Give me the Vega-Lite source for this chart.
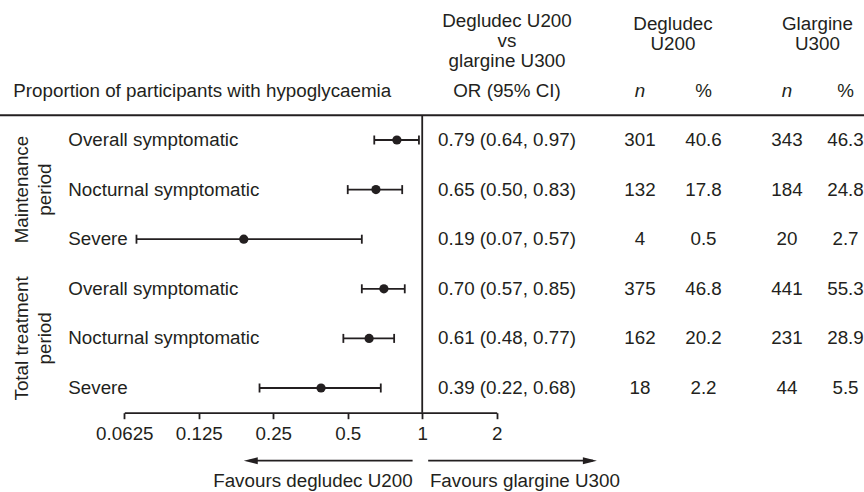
{
  "$schema": "https://vega.github.io/schema/vega-lite/v6.json",
  "width": 864,
  "height": 492,
  "padding": 0,
  "autosize": "none",
  "background": "white",
  "config": {
    "view": {"stroke": null},
    "text": {"font": "Liberation Sans", "fontSize": 18.8, "color": "#231f20"},
    "axis": {
      "grid": false, "title": null,
      "domainColor": "#231f20", "domainWidth": 1.8, "tickColor": "#231f20", "tickWidth": 1.8, "tickSize": 6,
      "labelFont": "Liberation Sans", "labelFontSize": 18.8, "labelColor": "#231f20", "labelPadding": 6,
      "labelFlush": false, "labelOverlap": false, "labelBound": false
    }
  },
  "datasets": {
    "rows": [
      {"row": 1, "group": "Maintenance\nperiod", "outcome": "Overall symptomatic", "or": 0.79, "lo": 0.64, "hi": 0.97, "or_ci": "0.79 (0.64, 0.97)", "deg_n": 301, "deg_pct": 40.6, "gla_n": 343, "gla_pct": 46.3},
      {"row": 2, "group": "Maintenance\nperiod", "outcome": "Nocturnal symptomatic", "or": 0.65, "lo": 0.50, "hi": 0.83, "or_ci": "0.65 (0.50, 0.83)", "deg_n": 132, "deg_pct": 17.8, "gla_n": 184, "gla_pct": 24.8},
      {"row": 3, "group": "Maintenance\nperiod", "outcome": "Severe", "or": 0.19, "lo": 0.07, "hi": 0.57, "or_ci": "0.19 (0.07, 0.57)", "deg_n": 4, "deg_pct": 0.5, "gla_n": 20, "gla_pct": 2.7},
      {"row": 4, "group": "Total treatment\nperiod", "outcome": "Overall symptomatic", "or": 0.70, "lo": 0.57, "hi": 0.85, "or_ci": "0.70 (0.57, 0.85)", "deg_n": 375, "deg_pct": 46.8, "gla_n": 441, "gla_pct": 55.3},
      {"row": 5, "group": "Total treatment\nperiod", "outcome": "Nocturnal symptomatic", "or": 0.61, "lo": 0.48, "hi": 0.77, "or_ci": "0.61 (0.48, 0.77)", "deg_n": 162, "deg_pct": 20.2, "gla_n": 231, "gla_pct": 28.9},
      {"row": 6, "group": "Total treatment\nperiod", "outcome": "Severe", "or": 0.39, "lo": 0.22, "hi": 0.68, "or_ci": "0.39 (0.22, 0.68)", "deg_n": 18, "deg_pct": 2.2, "gla_n": 44, "gla_pct": 5.5}
    ]
  },
  "data": {"name": "rows"},
  "layer": [
    {
      "data": {"values": [{}]},
      "mark": {"type": "rule", "strokeWidth": 2, "color": "#231f20"},
      "encoding": {
        "y": {"datum": 0.5, "type": "quantitative", "scale": {"domain": [-1.8226, 8.0968], "reverse": true, "nice": false, "zero": false}, "axis": null}
      }
    },
    {
      "layer": [
        {
          "data": {"values": [{}]},
          "mark": {"type": "rule", "strokeWidth": 1.8, "color": "#231f20"},
          "encoding": {
            "x": {"datum": 1, "type": "quantitative", "scale": {"type": "log", "base": 2, "domain": [0.0625, 2], "range": [124.3, 496.7], "nice": false}, "axis": {"values": [0.0625, 0.125, 0.25, 0.5, 1, 2], "format": "~g", "offset": -79.3}},
            "y": {"datum": 0.5, "type": "quantitative", "scale": {"domain": [-1.8226, 8.0968], "reverse": true, "nice": false, "zero": false}, "axis": null},
            "y2": {"datum": 6.5}
          }
        },
        {
          "mark": {"type": "rule", "strokeWidth": 1.8, "color": "#231f20"},
          "encoding": {
            "x": {"field": "lo", "type": "quantitative", "scale": {"type": "log", "base": 2, "domain": [0.0625, 2], "range": [124.3, 496.7], "nice": false}, "axis": {"values": [0.0625, 0.125, 0.25, 0.5, 1, 2], "format": "~g", "offset": -79.3}},
            "x2": {"field": "hi"},
            "y": {"field": "row", "type": "quantitative", "scale": {"domain": [-1.8226, 8.0968], "reverse": true, "nice": false, "zero": false}, "axis": null}
          }
        },
        {
          "transform": [{"fold": ["lo", "hi"], "as": ["end", "val"]}],
          "mark": {"type": "tick", "orient": "vertical", "size": 9, "thickness": 1.8, "color": "#231f20", "opacity": 1},
          "encoding": {
            "x": {"field": "val", "type": "quantitative", "scale": {"type": "log", "base": 2, "domain": [0.0625, 2], "range": [124.3, 496.7], "nice": false}, "axis": {"values": [0.0625, 0.125, 0.25, 0.5, 1, 2], "format": "~g", "offset": -79.3}},
            "y": {"field": "row", "type": "quantitative", "scale": {"domain": [-1.8226, 8.0968], "reverse": true, "nice": false, "zero": false}, "axis": null}
          }
        },
        {
          "mark": {"type": "circle", "size": 85, "opacity": 1, "color": "#231f20"},
          "encoding": {
            "x": {"field": "or", "type": "quantitative", "scale": {"type": "log", "base": 2, "domain": [0.0625, 2], "range": [124.3, 496.7], "nice": false}, "axis": {"values": [0.0625, 0.125, 0.25, 0.5, 1, 2], "format": "~g", "offset": -79.3}},
            "y": {"field": "row", "type": "quantitative", "scale": {"domain": [-1.8226, 8.0968], "reverse": true, "nice": false, "zero": false}, "axis": null}
          }
        },
        {
          "data": {"values": [{}]},
          "mark": {"type": "rule", "strokeWidth": 1.8, "color": "#231f20"},
          "encoding": {
            "x": {"datum": 0.9144, "type": "quantitative", "scale": {"type": "log", "base": 2, "domain": [0.0625, 2], "range": [124.3, 496.7], "nice": false}, "axis": {"values": [0.0625, 0.125, 0.25, 0.5, 1, 2], "format": "~g", "offset": -79.3}},
            "x2": {"datum": 0.2},
            "y": {"datum": 7.466, "type": "quantitative", "scale": {"domain": [-1.8226, 8.0968], "reverse": true, "nice": false, "zero": false}, "axis": null}
          }
        },
        {
          "data": {"values": [{}]},
          "mark": {"type": "point", "shape": "M0,0L2,-0.5L2,0.5Z", "size": 196, "filled": true, "opacity": 1, "strokeWidth": 0, "color": "#231f20"},
          "encoding": {
            "x": {"datum": 0.19, "type": "quantitative", "scale": {"type": "log", "base": 2, "domain": [0.0625, 2], "range": [124.3, 496.7], "nice": false}, "axis": {"values": [0.0625, 0.125, 0.25, 0.5, 1, 2], "format": "~g", "offset": -79.3}},
            "y": {"datum": 7.466, "type": "quantitative", "scale": {"domain": [-1.8226, 8.0968], "reverse": true, "nice": false, "zero": false}, "axis": null}
          }
        },
        {
          "data": {"values": [{}]},
          "mark": {"type": "rule", "strokeWidth": 1.8, "color": "#231f20"},
          "encoding": {
            "x": {"datum": 1.057, "type": "quantitative", "scale": {"type": "log", "base": 2, "domain": [0.0625, 2], "range": [124.3, 496.7], "nice": false}, "axis": {"values": [0.0625, 0.125, 0.25, 0.5, 1, 2], "format": "~g", "offset": -79.3}},
            "x2": {"datum": 4.9},
            "y": {"datum": 7.466, "type": "quantitative", "scale": {"domain": [-1.8226, 8.0968], "reverse": true, "nice": false, "zero": false}, "axis": null}
          }
        },
        {
          "data": {"values": [{}]},
          "mark": {"type": "point", "shape": "M0,0L-2,-0.5L-2,0.5Z", "size": 196, "filled": true, "opacity": 1, "strokeWidth": 0, "color": "#231f20"},
          "encoding": {
            "x": {"datum": 5.08, "type": "quantitative", "scale": {"type": "log", "base": 2, "domain": [0.0625, 2], "range": [124.3, 496.7], "nice": false}, "axis": {"values": [0.0625, 0.125, 0.25, 0.5, 1, 2], "format": "~g", "offset": -79.3}},
            "y": {"datum": 7.466, "type": "quantitative", "scale": {"domain": [-1.8226, 8.0968], "reverse": true, "nice": false, "zero": false}, "axis": null}
          }
        },
        {
          "data": {"values": [{"label": "Favours degludec U200"}]},
          "mark": {"type": "text", "align": "right", "baseline": "alphabetic"},
          "encoding": {
            "x": {"datum": 0.9144, "type": "quantitative", "scale": {"type": "log", "base": 2, "domain": [0.0625, 2], "range": [124.3, 496.7], "nice": false}, "axis": {"values": [0.0625, 0.125, 0.25, 0.5, 1, 2], "format": "~g", "offset": -79.3}},
            "y": {"datum": 7.99, "type": "quantitative", "scale": {"domain": [-1.8226, 8.0968], "reverse": true, "nice": false, "zero": false}, "axis": null},
            "text": {"field": "label"}
          }
        },
        {
          "data": {"values": [{"label": "Favours glargine U300"}]},
          "mark": {"type": "text", "align": "left", "baseline": "alphabetic"},
          "encoding": {
            "x": {"datum": 1.074, "type": "quantitative", "scale": {"type": "log", "base": 2, "domain": [0.0625, 2], "range": [124.3, 496.7], "nice": false}, "axis": {"values": [0.0625, 0.125, 0.25, 0.5, 1, 2], "format": "~g", "offset": -79.3}},
            "y": {"datum": 7.99, "type": "quantitative", "scale": {"domain": [-1.8226, 8.0968], "reverse": true, "nice": false, "zero": false}, "axis": null},
            "text": {"field": "label"}
          }
        }
      ]
    },
    {
      "layer": [
        {
          "data": {"values": [{"label": "Proportion of participants with hypoglycaemia"}]},
          "mark": {"type": "text", "align": "left", "baseline": "alphabetic"},
          "encoding": {
            "x": {"datum": 0, "type": "quantitative", "scale": {"type": "linear", "domain": [0, 1, 2, 3, 4, 5, 6, 7, 8, 9], "range": [13.3, 22, 68.3, 507, 640, 673, 703.5, 787, 817.5, 845.5], "nice": false, "zero": false}, "axis": null},
            "y": {"datum": 0.123, "type": "quantitative", "scale": {"domain": [-1.8226, 8.0968], "reverse": true, "nice": false, "zero": false}, "axis": null},
            "text": {"field": "label"}
          }
        },
        {
          "data": {"values": [{"label": "OR (95% CI)"}]},
          "mark": {"type": "text", "align": "center", "baseline": "alphabetic"},
          "encoding": {
            "x": {"datum": 3, "type": "quantitative", "scale": {"type": "linear", "domain": [0, 1, 2, 3, 4, 5, 6, 7, 8, 9], "range": [13.3, 22, 68.3, 507, 640, 673, 703.5, 787, 817.5, 845.5], "nice": false, "zero": false}, "axis": null},
            "y": {"datum": 0.123, "type": "quantitative", "scale": {"domain": [-1.8226, 8.0968], "reverse": true, "nice": false, "zero": false}, "axis": null},
            "text": {"field": "label"}
          }
        },
        {
          "data": {"values": [{"label": "n"}]},
          "mark": {"type": "text", "align": "center", "baseline": "alphabetic", "fontStyle": "italic"},
          "encoding": {
            "x": {"datum": 4, "type": "quantitative", "scale": {"type": "linear", "domain": [0, 1, 2, 3, 4, 5, 6, 7, 8, 9], "range": [13.3, 22, 68.3, 507, 640, 673, 703.5, 787, 817.5, 845.5], "nice": false, "zero": false}, "axis": null},
            "y": {"datum": 0.123, "type": "quantitative", "scale": {"domain": [-1.8226, 8.0968], "reverse": true, "nice": false, "zero": false}, "axis": null},
            "text": {"field": "label"}
          }
        },
        {
          "data": {"values": [{"label": "%"}]},
          "mark": {"type": "text", "align": "center", "baseline": "alphabetic"},
          "encoding": {
            "x": {"datum": 6, "type": "quantitative", "scale": {"type": "linear", "domain": [0, 1, 2, 3, 4, 5, 6, 7, 8, 9], "range": [13.3, 22, 68.3, 507, 640, 673, 703.5, 787, 817.5, 845.5], "nice": false, "zero": false}, "axis": null},
            "y": {"datum": 0.123, "type": "quantitative", "scale": {"domain": [-1.8226, 8.0968], "reverse": true, "nice": false, "zero": false}, "axis": null},
            "text": {"field": "label"}
          }
        },
        {
          "data": {"values": [{"label": "n"}]},
          "mark": {"type": "text", "align": "center", "baseline": "alphabetic", "fontStyle": "italic"},
          "encoding": {
            "x": {"datum": 7, "type": "quantitative", "scale": {"type": "linear", "domain": [0, 1, 2, 3, 4, 5, 6, 7, 8, 9], "range": [13.3, 22, 68.3, 507, 640, 673, 703.5, 787, 817.5, 845.5], "nice": false, "zero": false}, "axis": null},
            "y": {"datum": 0.123, "type": "quantitative", "scale": {"domain": [-1.8226, 8.0968], "reverse": true, "nice": false, "zero": false}, "axis": null},
            "text": {"field": "label"}
          }
        },
        {
          "data": {"values": [{"label": "%"}]},
          "mark": {"type": "text", "align": "center", "baseline": "alphabetic"},
          "encoding": {
            "x": {"datum": 9, "type": "quantitative", "scale": {"type": "linear", "domain": [0, 1, 2, 3, 4, 5, 6, 7, 8, 9], "range": [13.3, 22, 68.3, 507, 640, 673, 703.5, 787, 817.5, 845.5], "nice": false, "zero": false}, "axis": null},
            "y": {"datum": 0.123, "type": "quantitative", "scale": {"domain": [-1.8226, 8.0968], "reverse": true, "nice": false, "zero": false}, "axis": null},
            "text": {"field": "label"}
          }
        },
        {
          "data": {"values": [{"label": "Degludec U200\nvs\nglargine U300"}]},
          "mark": {"type": "text", "align": "center", "baseline": "alphabetic", "lineBreak": "\n", "lineHeight": 20},
          "encoding": {
            "x": {"datum": 3, "type": "quantitative", "scale": {"type": "linear", "domain": [0, 1, 2, 3, 4, 5, 6, 7, 8, 9], "range": [13.3, 22, 68.3, 507, 640, 673, 703.5, 787, 817.5, 845.5], "nice": false, "zero": false}, "axis": null},
            "y": {"datum": -1.278, "type": "quantitative", "scale": {"domain": [-1.8226, 8.0968], "reverse": true, "nice": false, "zero": false}, "axis": null},
            "text": {"field": "label"}
          }
        },
        {
          "data": {"values": [{"label": "Degludec\nU200"}]},
          "mark": {"type": "text", "align": "center", "baseline": "alphabetic", "lineBreak": "\n", "lineHeight": 20},
          "encoding": {
            "x": {"datum": 5, "type": "quantitative", "scale": {"type": "linear", "domain": [0, 1, 2, 3, 4, 5, 6, 7, 8, 9], "range": [13.3, 22, 68.3, 507, 640, 673, 703.5, 787, 817.5, 845.5], "nice": false, "zero": false}, "axis": null},
            "y": {"datum": -1.21, "type": "quantitative", "scale": {"domain": [-1.8226, 8.0968], "reverse": true, "nice": false, "zero": false}, "axis": null},
            "text": {"field": "label"}
          }
        },
        {
          "data": {"values": [{"label": "Glargine\nU300"}]},
          "mark": {"type": "text", "align": "center", "baseline": "alphabetic", "lineBreak": "\n", "lineHeight": 20},
          "encoding": {
            "x": {"datum": 8, "type": "quantitative", "scale": {"type": "linear", "domain": [0, 1, 2, 3, 4, 5, 6, 7, 8, 9], "range": [13.3, 22, 68.3, 507, 640, 673, 703.5, 787, 817.5, 845.5], "nice": false, "zero": false}, "axis": null},
            "y": {"datum": -1.21, "type": "quantitative", "scale": {"domain": [-1.8226, 8.0968], "reverse": true, "nice": false, "zero": false}, "axis": null},
            "text": {"field": "label"}
          }
        },
        {
          "transform": [{"aggregate": [{"op": "mean", "field": "row", "as": "mid"}], "groupby": ["group"]}],
          "mark": {"type": "text", "align": "center", "baseline": "middle", "angle": 270, "lineBreak": "\n", "lineHeight": 23},
          "encoding": {
            "x": {"datum": 1, "type": "quantitative", "scale": {"type": "linear", "domain": [0, 1, 2, 3, 4, 5, 6, 7, 8, 9], "range": [13.3, 22, 68.3, 507, 640, 673, 703.5, 787, 817.5, 845.5], "nice": false, "zero": false}, "axis": null},
            "y": {"field": "mid", "type": "quantitative", "scale": {"domain": [-1.8226, 8.0968], "reverse": true, "nice": false, "zero": false}, "axis": null},
            "text": {"field": "group"}
          }
        },
        {
          "mark": {"type": "text", "align": "left", "baseline": "middle"},
          "encoding": {
            "x": {"datum": 2, "type": "quantitative", "scale": {"type": "linear", "domain": [0, 1, 2, 3, 4, 5, 6, 7, 8, 9], "range": [13.3, 22, 68.3, 507, 640, 673, 703.5, 787, 817.5, 845.5], "nice": false, "zero": false}, "axis": null},
            "y": {"field": "row", "type": "quantitative", "scale": {"domain": [-1.8226, 8.0968], "reverse": true, "nice": false, "zero": false}, "axis": null},
            "text": {"field": "outcome"}
          }
        },
        {
          "mark": {"type": "text", "align": "center", "baseline": "middle"},
          "encoding": {
            "x": {"datum": 3, "type": "quantitative", "scale": {"type": "linear", "domain": [0, 1, 2, 3, 4, 5, 6, 7, 8, 9], "range": [13.3, 22, 68.3, 507, 640, 673, 703.5, 787, 817.5, 845.5], "nice": false, "zero": false}, "axis": null},
            "y": {"field": "row", "type": "quantitative", "scale": {"domain": [-1.8226, 8.0968], "reverse": true, "nice": false, "zero": false}, "axis": null},
            "text": {"field": "or_ci"}
          }
        },
        {
          "mark": {"type": "text", "align": "center", "baseline": "middle"},
          "encoding": {
            "x": {"datum": 4, "type": "quantitative", "scale": {"type": "linear", "domain": [0, 1, 2, 3, 4, 5, 6, 7, 8, 9], "range": [13.3, 22, 68.3, 507, 640, 673, 703.5, 787, 817.5, 845.5], "nice": false, "zero": false}, "axis": null},
            "y": {"field": "row", "type": "quantitative", "scale": {"domain": [-1.8226, 8.0968], "reverse": true, "nice": false, "zero": false}, "axis": null},
            "text": {"field": "deg_n", "type": "quantitative", "format": "d"}
          }
        },
        {
          "mark": {"type": "text", "align": "center", "baseline": "middle"},
          "encoding": {
            "x": {"datum": 6, "type": "quantitative", "scale": {"type": "linear", "domain": [0, 1, 2, 3, 4, 5, 6, 7, 8, 9], "range": [13.3, 22, 68.3, 507, 640, 673, 703.5, 787, 817.5, 845.5], "nice": false, "zero": false}, "axis": null},
            "y": {"field": "row", "type": "quantitative", "scale": {"domain": [-1.8226, 8.0968], "reverse": true, "nice": false, "zero": false}, "axis": null},
            "text": {"field": "deg_pct", "type": "quantitative", "format": ".1f"}
          }
        },
        {
          "mark": {"type": "text", "align": "center", "baseline": "middle"},
          "encoding": {
            "x": {"datum": 7, "type": "quantitative", "scale": {"type": "linear", "domain": [0, 1, 2, 3, 4, 5, 6, 7, 8, 9], "range": [13.3, 22, 68.3, 507, 640, 673, 703.5, 787, 817.5, 845.5], "nice": false, "zero": false}, "axis": null},
            "y": {"field": "row", "type": "quantitative", "scale": {"domain": [-1.8226, 8.0968], "reverse": true, "nice": false, "zero": false}, "axis": null},
            "text": {"field": "gla_n", "type": "quantitative", "format": "d"}
          }
        },
        {
          "mark": {"type": "text", "align": "center", "baseline": "middle"},
          "encoding": {
            "x": {"datum": 9, "type": "quantitative", "scale": {"type": "linear", "domain": [0, 1, 2, 3, 4, 5, 6, 7, 8, 9], "range": [13.3, 22, 68.3, 507, 640, 673, 703.5, 787, 817.5, 845.5], "nice": false, "zero": false}, "axis": null},
            "y": {"field": "row", "type": "quantitative", "scale": {"domain": [-1.8226, 8.0968], "reverse": true, "nice": false, "zero": false}, "axis": null},
            "text": {"field": "gla_pct", "type": "quantitative", "format": ".1f"}
          }
        }
      ]
    }
  ],
  "resolve": {"scale": {"x": "independent"}, "axis": {"x": "independent"}}
}
